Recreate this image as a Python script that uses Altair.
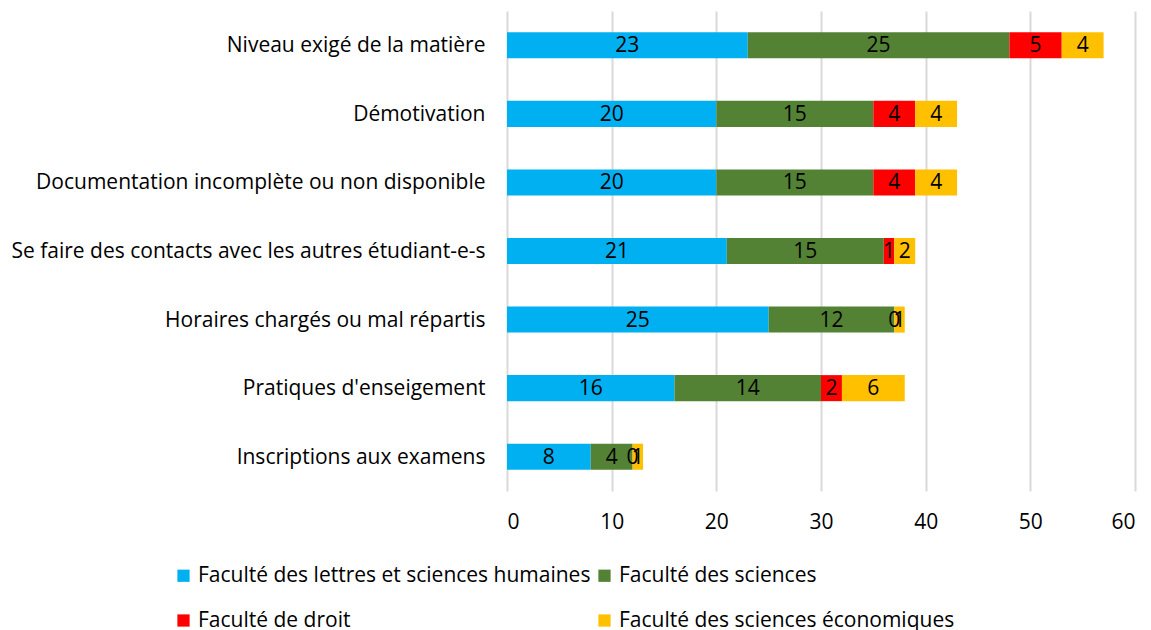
import altair as alt
import pandas as pd

categories = [
    "Niveau exigé de la matière",
    "Démotivation",
    "Documentation incomplète ou non disponible",
    "Se faire des contacts avec les autres étudiant-e-s",
    "Horaires chargés ou mal répartis",
    "Pratiques d'enseigement",
    "Inscriptions aux examens",
]
series = [
    "Faculté des lettres et sciences humaines",
    "Faculté des sciences",
    "Faculté de droit",
    "Faculté des sciences économiques",
]
lettres = [23, 20, 20, 21, 25, 16, 8]
sciences = [25, 15, 15, 15, 12, 14, 4]
droit = [5, 4, 4, 1, 0, 2, 0]
economie = [4, 4, 4, 2, 1, 6, 1]
colors = ["#00B0F0", "#548235", "#FF0000", "#FFC000"]
x_ticks = [0, 10, 20, 30, 40, 50, 60]

rows = []
for si, (s, vals) in enumerate(zip(series, [lettres, sciences, droit, economie])):
    for c, v in zip(categories, vals):
        rows.append({"cat": c, "serie": s, "value": v, "order": si})
df = pd.DataFrame(rows)

FONT = "Open Sans"
FS = 21

base = alt.Chart(df).transform_stack(
    stack="value", as_=["start", "end"], groupby=["cat"], sort=[alt.SortField("order")]
).transform_calculate(mid="(datum.start + datum.end) / 2")

yenc = alt.Y(
    "cat:N",
    sort=categories,
    title=None,
    scale=alt.Scale(paddingInner=0.62, paddingOuter=0.31),
    axis=alt.Axis(domain=False, ticks=False, labelPadding=22, labelFontSize=FS,
                  labelColor="#000000", labelFont=FONT, labelLimit=600, grid=False,
                  labelOffset=1),
)

bars = base.mark_bar().encode(
    x=alt.X("start:Q", title=None,
            scale=alt.Scale(domain=[0, 60], nice=False),
            axis=alt.Axis(values=x_ticks, domain=False, ticks=False, labelPadding=20,
                          labelFontSize=FS, labelColor="#000000", labelFont=FONT,
                          grid=True, gridColor="#D9D9D9", gridWidth=2)),
    x2="end:Q",
    y=yenc,
    color=alt.Color("serie:N", scale=alt.Scale(domain=series, range=colors),
                    legend=alt.Legend(title=None, orient="none", legendX=-334, legendY=554,
                                      columns=2, direction="horizontal",
                                      symbolType="square", symbolSize=150,
                                      symbolStrokeWidth=0, labelFontSize=FS, labelFont=FONT,
                                      labelColor="#000000", rowPadding=23, columnPadding=3,
                                      labelLimit=600, symbolOffset=0, labelOffset=4)),
    order=alt.Order("order:Q"),
)

texts = base.mark_text(fontSize=FS, font=FONT, color="#000000", dy=1).encode(
    x=alt.X("mid:Q"),
    y=alt.Y("cat:N", sort=categories),
    text=alt.Text("value:Q"),
)

chart = (bars + texts).properties(
    width=628, height=480,
    autosize=alt.AutoSizeParams(type="none"),
    padding={"left": 499, "top": 3, "right": 8, "bottom": 139},
).configure_view(stroke=None)

chart.save("out.html", embed_options={"renderer": "svg", "actions": False})
